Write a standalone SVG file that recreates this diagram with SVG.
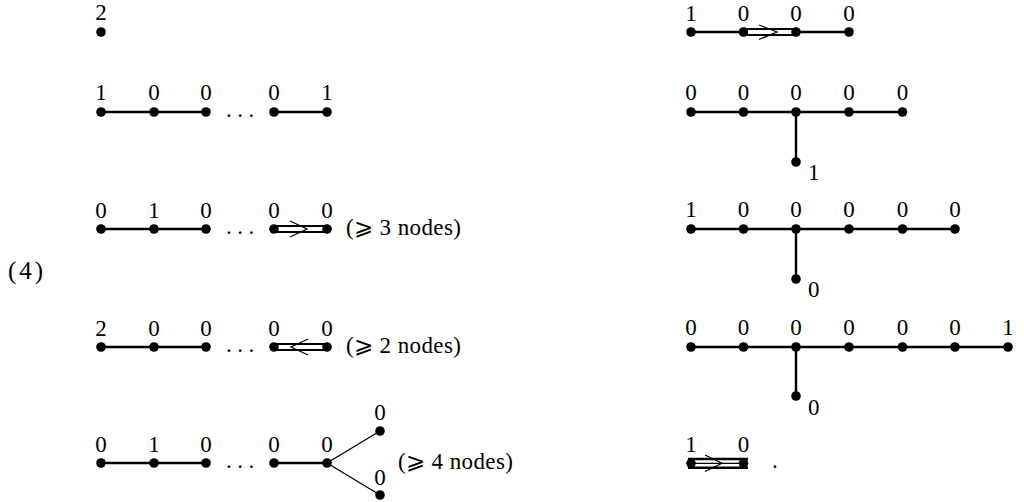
<svg xmlns="http://www.w3.org/2000/svg" width="1024" height="502" viewBox="0 0 1024 502" font-family="'Liberation Serif', 'Times New Roman', 'DejaVu Serif', serif">
<style>
text{font-family:'Liberation Serif','Times New Roman','DejaVu Serif',serif;font-size:23px;fill:#000}
.l{text-anchor:middle}
.e{stroke:#000;stroke-width:2.4;fill:none}
.t{stroke:#000;stroke-width:1.3;fill:none}
.d{stroke:#000;stroke-width:2;fill:none}
.a{stroke:#000;stroke-width:1.2;fill:none}
circle{fill:#000}
.dots{letter-spacing:5.5px}
</style>
<defs>
<circle id="n" r="4.8"/>
</defs>
<g id="connectors">
<path class="e" d="M101 112H206M274 112H327"/>
<path class="e" d="M101 229H206"/>
<path class="d" d="M274 226.1H327M274 231.9H327"/>
<path class="a" d="M290 221L307 229L290 237"/>
<path class="e" d="M101 347H206"/>
<path class="d" d="M274 344.1H327M274 349.9H327"/>
<path class="a" d="M308 339L291 347L308 355"/>
<path class="e" d="M101 463H206M274 463H327"/>
<path class="t" d="M327 463L380 431M327 463L380 495"/>
<path class="e" d="M691 32H743.5M796 32H849"/>
<path class="d" d="M743.5 29.1H796M743.5 34.9H796"/>
<path class="a" d="M759 25L777 32L759 39.5"/>
<path class="e" d="M691 112H902.5M796 112V162"/>
<path class="e" d="M691 229H955M796 229V279"/>
<path class="e" d="M691 347H1008M796 347V396"/>
<path class="e" d="M688 459H748M688 467.7H748"/>
<path class="t" d="M688 463.3H748"/>
<path class="a" d="M705 455L722 463.3L705 471.5"/>
</g>
<g id="row-L1">
<g id="L1n1"><use href="#n" x="101" y="32"/><text class="l" x="101" y="20">2</text></g>
</g>
<g id="row-L2">
<g id="L2n1"><use href="#n" x="101" y="112"/><text class="l" x="101" y="100">1</text></g>
<g id="L2n2"><use href="#n" x="154" y="112"/><text class="l" x="154" y="100">0</text></g>
<g id="L2n3"><use href="#n" x="206" y="112"/><text class="l" x="206" y="100">0</text></g>
<text class="dots" x="226" y="117">...</text>
<g id="L2n4"><use href="#n" x="274" y="112"/><text class="l" x="274" y="100">0</text></g>
<g id="L2n5"><use href="#n" x="327" y="112"/><text class="l" x="327" y="100">1</text></g>
</g>
<g id="row-L3">
<g id="L3n1"><use href="#n" x="101" y="229"/><text class="l" x="101" y="218">0</text></g>
<g id="L3n2"><use href="#n" x="154" y="229"/><text class="l" x="154" y="218">1</text></g>
<g id="L3n3"><use href="#n" x="206" y="229"/><text class="l" x="206" y="218">0</text></g>
<text class="dots" x="226" y="234">...</text>
<g id="L3n4"><use href="#n" x="274" y="229"/><text class="l" x="274" y="218">0</text></g>
<g id="L3n5"><use href="#n" x="327" y="229"/><text class="l" x="327" y="218">0</text></g>
<text x="346" y="235" textLength="115" lengthAdjust="spacing">(⩾ 3 nodes)</text>
</g>
<text x="8" y="279" font-size="25" style="font-size:25px" textLength="35" lengthAdjust="spacing">(4)</text>
<g id="row-L4">
<g id="L4n1"><use href="#n" x="101" y="347"/><text class="l" x="101" y="336">2</text></g>
<g id="L4n2"><use href="#n" x="154" y="347"/><text class="l" x="154" y="336">0</text></g>
<g id="L4n3"><use href="#n" x="206" y="347"/><text class="l" x="206" y="336">0</text></g>
<text class="dots" x="226" y="352">...</text>
<g id="L4n4"><use href="#n" x="274" y="347"/><text class="l" x="274" y="336">0</text></g>
<g id="L4n5"><use href="#n" x="327" y="347"/><text class="l" x="327" y="336">0</text></g>
<text x="346" y="353" textLength="115" lengthAdjust="spacing">(⩾ 2 nodes)</text>
</g>
<g id="row-L5">
<g id="L5n1"><use href="#n" x="101" y="463"/><text class="l" x="101" y="452">0</text></g>
<g id="L5n2"><use href="#n" x="154" y="463"/><text class="l" x="154" y="452">1</text></g>
<g id="L5n3"><use href="#n" x="206" y="463"/><text class="l" x="206" y="452">0</text></g>
<text class="dots" x="226" y="468">...</text>
<g id="L5n4"><use href="#n" x="274" y="463"/><text class="l" x="274" y="452">0</text></g>
<g id="L5n5"><use href="#n" x="327" y="463"/><text class="l" x="327" y="452">0</text></g>
<g id="L5n6"><use href="#n" x="380" y="431"/><text class="l" x="380" y="420">0</text></g>
<g id="L5n7"><use href="#n" x="380" y="495"/><text class="l" x="380" y="485">0</text></g>
<text x="398" y="469" textLength="115" lengthAdjust="spacing">(⩾ 4 nodes)</text>
</g>
<g id="row-R1">
<g id="R1n1"><use href="#n" x="691" y="32"/><text class="l" x="691" y="21">1</text></g>
<g id="R1n2"><use href="#n" x="743.5" y="32"/><text class="l" x="743.5" y="21">0</text></g>
<g id="R1n3"><use href="#n" x="796" y="32"/><text class="l" x="796" y="21">0</text></g>
<g id="R1n4"><use href="#n" x="849" y="32"/><text class="l" x="849" y="21">0</text></g>
</g>
<g id="row-R2">
<g id="R2n1"><use href="#n" x="691" y="112"/><text class="l" x="691" y="100">0</text></g>
<g id="R2n2"><use href="#n" x="743.5" y="112"/><text class="l" x="743.5" y="100">0</text></g>
<g id="R2n3"><use href="#n" x="796" y="112"/><text class="l" x="796" y="100">0</text></g>
<g id="R2n4"><use href="#n" x="849" y="112"/><text class="l" x="849" y="100">0</text></g>
<g id="R2n5"><use href="#n" x="902.5" y="112"/><text class="l" x="902.5" y="100">0</text></g>
<g id="R2n6"><use href="#n" x="796" y="162"/><text x="808" y="180">1</text></g>
</g>
<g id="row-R3">
<g id="R3n1"><use href="#n" x="691" y="229"/><text class="l" x="691" y="217">1</text></g>
<g id="R3n2"><use href="#n" x="743.5" y="229"/><text class="l" x="743.5" y="217">0</text></g>
<g id="R3n3"><use href="#n" x="796" y="229"/><text class="l" x="796" y="217">0</text></g>
<g id="R3n4"><use href="#n" x="849" y="229"/><text class="l" x="849" y="217">0</text></g>
<g id="R3n5"><use href="#n" x="902.5" y="229"/><text class="l" x="902.5" y="217">0</text></g>
<g id="R3n6"><use href="#n" x="955" y="229"/><text class="l" x="955" y="217">0</text></g>
<g id="R3n7"><use href="#n" x="796" y="279"/><text x="808" y="297">0</text></g>
</g>
<g id="row-R4">
<g id="R4n1"><use href="#n" x="691" y="347"/><text class="l" x="691" y="335">0</text></g>
<g id="R4n2"><use href="#n" x="743.5" y="347"/><text class="l" x="743.5" y="335">0</text></g>
<g id="R4n3"><use href="#n" x="796" y="347"/><text class="l" x="796" y="335">0</text></g>
<g id="R4n4"><use href="#n" x="849" y="347"/><text class="l" x="849" y="335">0</text></g>
<g id="R4n5"><use href="#n" x="902.5" y="347"/><text class="l" x="902.5" y="335">0</text></g>
<g id="R4n6"><use href="#n" x="955" y="347"/><text class="l" x="955" y="335">0</text></g>
<g id="R4n7"><use href="#n" x="1008" y="347"/><text class="l" x="1008" y="335">1</text></g>
<g id="R4n8"><use href="#n" x="796" y="396"/><text x="808" y="415">0</text></g>
</g>
<g id="row-R5">
<g id="R5n1"><use href="#n" x="691" y="463.3"/><text class="l" x="691" y="452">1</text></g>
<g id="R5n2"><use href="#n" x="743.5" y="463.3"/><text class="l" x="743.5" y="452">0</text></g>
<text x="772" y="468">.</text>
</g>
</svg>
